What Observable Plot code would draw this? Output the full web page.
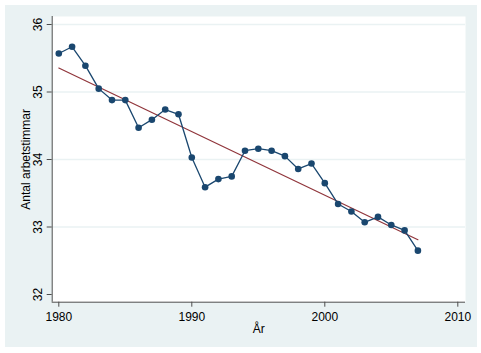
<!DOCTYPE html>
<html><head><meta charset="utf-8">
<script src="https://cdn.jsdelivr.net/npm/d3@7"></script>
<script src="https://cdn.jsdelivr.net/npm/@observablehq/plot@0.6"></script>
<style>body{margin:0;background:#fff}#chart{position:absolute;left:5px;top:5px}</style>
</head><body><div id="chart"></div>
<script>
const years = [1980,1981,1982,1983,1984,1985,1986,1987,1988,1989,1990,1991,1992,1993,1994,1995,1996,1997,1998,1999,2000,2001,2002,2003,2004,2005,2006,2007];
const hours = [35.57,35.67,35.39,35.05,34.88,34.88,34.47,34.59,34.74,34.67,34.03,33.59,33.71,33.75,34.13,34.16,34.13,34.05,33.86,33.94,33.65,33.34,33.23,33.07,33.15,33.03,32.95,32.65];
const yTicks = [32,33,34,35,36];
const xTicks = [1980,1990,2000,2010];
const gridTicks = [33,34,35,36];
const yLabel = "Antal arbetstimmar";
const xLabel = "År";
const data = years.map((x,i)=>({year:x, hours:hours[i]}));
const axisColor = "#4d4d4d";
const plot = Plot.plot({
  width:472, height:342, marginLeft:46.7, marginRight:12, marginTop:11, marginBottom:45.3,
  style:{background:"#eaf2f3", fontFamily:"'Liberation Sans', Arial, sans-serif", fontSize:"12px", color:"#000"},
  x:{domain:[1980,2010], insetLeft:6.6, insetRight:7.7},
  y:{domain:[32,36], insetTop:8, insetBottom:7.7},
  marks:[
    Plot.frame({fill:"white", stroke:null}),
    Plot.gridY(gridTicks, {stroke:"#eaf2f3", strokeOpacity:1, strokeWidth:1.3}),
    Plot.axisX(xTicks, {tickSize:5, tickPadding:5, tickFormat:d=>String(d), label:null, stroke:axisColor}),
    Plot.axisY(yTicks, {tickSize:5, tickPadding:5, tickRotate:-90, tickFormat:d=>String(d), label:null, stroke:axisColor}),
    Plot.ruleY([32],{dy:7.7, stroke:axisColor}),
    Plot.ruleX([1980],{dx:-6.6, stroke:axisColor}),
    Plot.linearRegressionY(data,{x:"year",y:"hours",stroke:"#90353b",strokeWidth:1.2, ci:0}),
    Plot.line(data,{x:"year",y:"hours",stroke:"#1a476f",strokeWidth:1.3}),
    Plot.dot(data,{x:"year",y:"hours",r:3.3,fill:"#1a476f"}),
    Plot.text([yLabel],{text:d=>d, frameAnchor:"left", textAnchor:"middle", lineAnchor:"middle", rotate:-90, dx:-26.5, fontSize:12}),
    Plot.text([xLabel],{text:d=>d, frameAnchor:"bottom", textAnchor:"middle", lineAnchor:"middle", dy:27.2, fontSize:12})
  ]
});
document.getElementById("chart").appendChild(plot);
</script></body></html>
